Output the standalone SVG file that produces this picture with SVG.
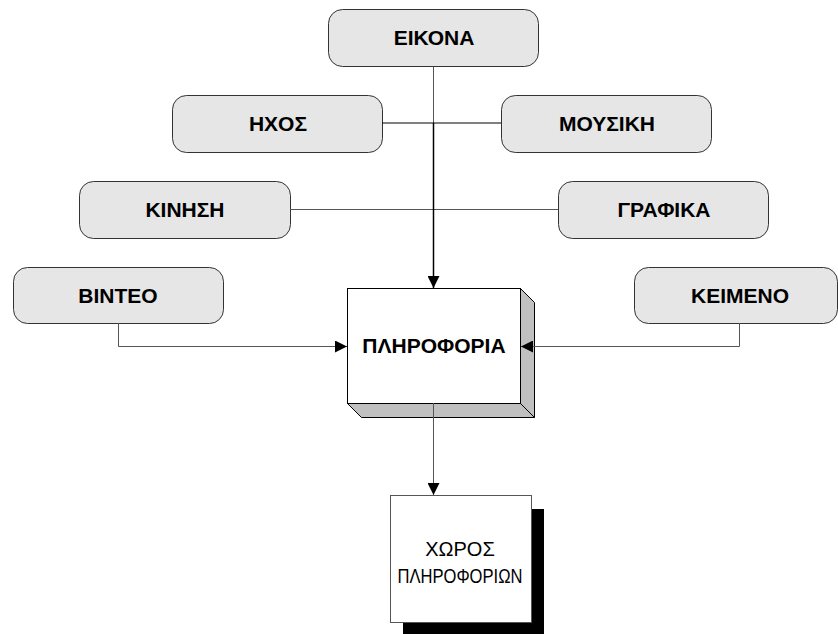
<svg xmlns="http://www.w3.org/2000/svg" width="838" height="634" viewBox="0 0 838 634">
  <defs>
    <marker id="arrow" viewBox="0 0 12 12" refX="12" refY="6" markerWidth="12" markerHeight="12" markerUnits="userSpaceOnUse" orient="auto">
      <path d="M0,0 L12,6 L0,12 Z" fill="#000"/>
    </marker>
    <style>
      .src rect { fill: #e6e6e6; stroke: #333; stroke-width: 1; }
      .lbl { font-family: "Liberation Sans", Arial, sans-serif; font-size: 21px; font-weight: bold; fill: #000; text-anchor: middle; }
      .plain { font-family: "Liberation Sans", Arial, sans-serif; font-size: 20px; fill: #000; text-anchor: middle; }
      .wire { fill: none; stroke: #555; stroke-width: 1; }
      .wire-dark { fill: none; stroke: #000; stroke-width: 1.5; }
    </style>
  </defs>

  <!-- source nodes -->
  <g id="eikona" class="src">
    <rect x="328.5" y="9.5" width="210" height="57" rx="14"/>
    <text class="lbl" x="434" y="45">ΕΙΚΟΝΑ</text>
  </g>
  <g id="ixos" class="src">
    <rect x="172.5" y="95.5" width="210" height="57" rx="14"/>
    <text class="lbl" x="278" y="131">ΗΧΟΣ</text>
  </g>
  <g id="mousiki" class="src">
    <rect x="501.5" y="95.5" width="210" height="57" rx="14"/>
    <text class="lbl" x="607" y="131">ΜΟΥΣΙΚΗ</text>
  </g>
  <g id="kinisi" class="src">
    <rect x="79.5" y="181.5" width="211" height="57" rx="14"/>
    <text class="lbl" x="185" y="217">ΚΙΝΗΣΗ</text>
  </g>
  <g id="grafika" class="src">
    <rect x="558.5" y="181.5" width="210" height="57" rx="14"/>
    <text class="lbl" x="664" y="217">ΓΡΑΦΙΚΑ</text>
  </g>
  <g id="vinteo" class="src">
    <rect x="13.5" y="267.5" width="210" height="56" rx="14"/>
    <text class="lbl" x="118" y="303">ΒΙΝΤΕΟ</text>
  </g>
  <g id="keimeno" class="src">
    <rect x="634.5" y="267.5" width="203" height="56" rx="14"/>
    <text class="lbl" x="740" y="303">ΚΕΙΜΕΝΟ</text>
  </g>

  <!-- central 3D block -->
  <g id="pliroforia">
    <polygon points="520.5,288.5 534.5,302.5 534.5,417.5 520.5,403.5" fill="#c0c0c0" stroke="#000" stroke-width="1"/>
    <polygon points="347.5,403.5 520.5,403.5 534.5,417.5 361.5,417.5" fill="#c0c0c0" stroke="#000" stroke-width="1"/>
    <rect x="347.5" y="288.5" width="173" height="115" fill="#fff" stroke="#000" stroke-width="1"/>
    <text class="lbl" x="434" y="353">ΠΛΗΡΟΦΟΡΙΑ</text>
  </g>

  <!-- storage box with drop shadow -->
  <g id="xoros">
    <rect x="403" y="509" width="141" height="125" fill="#000"/>
    <rect x="390.5" y="495.5" width="141" height="127" fill="#fff" stroke="#555" stroke-width="1"/>
    <text class="plain" x="460" y="556">ΧΩΡΟΣ</text>
    <text class="plain" x="460" y="583" textLength="125" lengthAdjust="spacingAndGlyphs">ΠΛΗΡΟΦΟΡΙΩΝ</text>
  </g>

  <!-- connectors -->
  <g id="connectors">
    <line class="wire" x1="433.5" y1="67" x2="433.5" y2="123"/>
    <line x1="382" y1="123" x2="501" y2="123" stroke="#000" stroke-width="1"/>
    <line class="wire" x1="290" y1="209.5" x2="558" y2="209.5"/>
    <line class="wire-dark" x1="433.5" y1="123" x2="433.5" y2="288" marker-end="url(#arrow)"/>
    <polyline class="wire" points="118.5,323 118.5,346.5 347,346.5" marker-end="url(#arrow)"/>
    <polyline class="wire" points="739.5,323 739.5,346.5 521,346.5" marker-end="url(#arrow)"/>
    <line class="wire" x1="433.5" y1="403" x2="433.5" y2="495" marker-end="url(#arrow)"/>
  </g>
</svg>
